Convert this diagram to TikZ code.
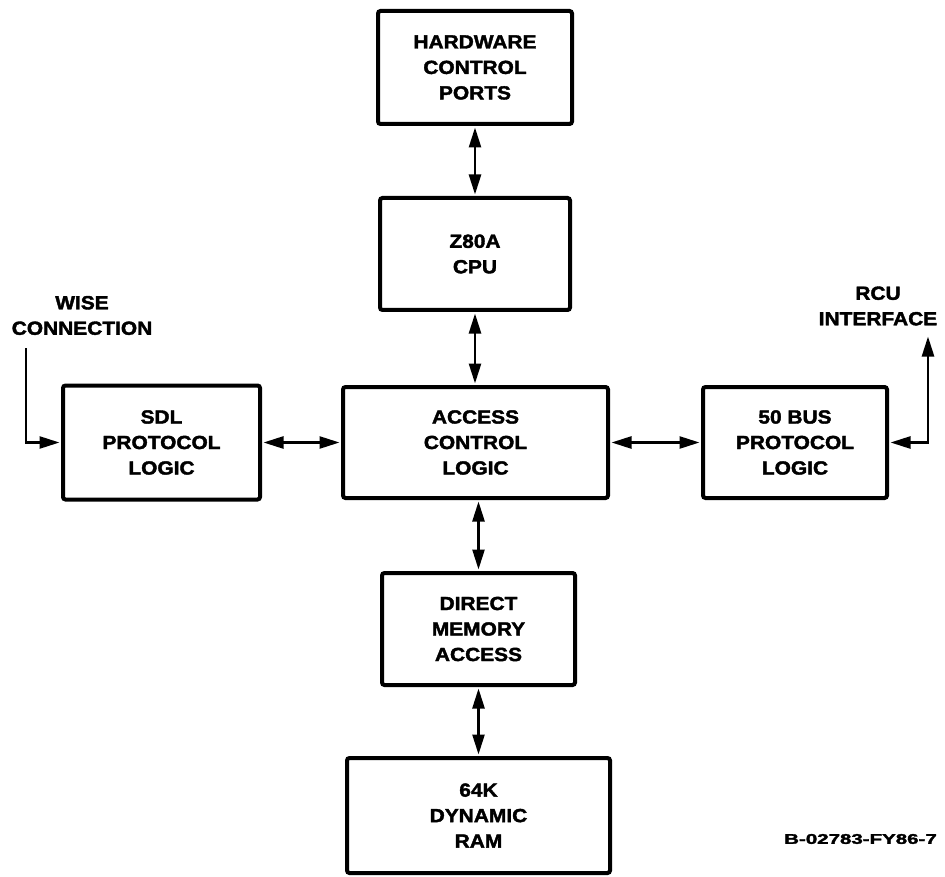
\documentclass[tikz,border=0pt]{standalone}
\usepackage{fontspec}
\newfontfamily\dfam{Liberation Sans}[FakeStretch=1.1,FakeBold=2]
\usetikzlibrary{arrows.meta}
\newcommand\dfont{\dfam\bfseries\fontsize{19}{25.5}\selectfont}
\newcommand\lfont{\dfam\bfseries\fontsize{14}{16}\selectfont}
\begin{document}
\begin{tikzpicture}[x=1pt,y=-1pt,
  box/.style={draw, line width=4pt, rounded corners=2.5pt, align=center, font=\dfont, inner sep=0pt},
  lbl/.style={align=center, font=\dfont, inner sep=0pt},
  tip/.tip={Triangle[length=20pt,width=12pt]},
  link/.style={line width=2.5pt, tip-tip, shorten >=1.5pt, shorten <=1.5pt},
  inlink/.style={line width=2.5pt, -tip, shorten >=1.5pt}]
\fill[white] (0,0) rectangle (945,877);
\useasboundingbox (0,0) rectangle (945,877);
\node[box, minimum width=194pt, minimum height=113pt] (hw)  at (475,67.5)   {HARDWARE\\CONTROL\\PORTS};
\node[box, minimum width=190pt, minimum height=112pt] (z80) at (475,254)    {Z80A\\CPU};
\node[box, minimum width=265pt, minimum height=111pt] (acl) at (475.5,442.5) {ACCESS\\CONTROL\\LOGIC};
\node[box, minimum width=197pt, minimum height=114pt] (sdl) at (161.5,442.5) {SDL\\PROTOCOL\\LOGIC};
\node[box, minimum width=184pt, minimum height=111pt] (bus) at (795,442.5)  {50 BUS\\PROTOCOL\\LOGIC};
\node[box, minimum width=193pt, minimum height=112pt] (dma) at (478.5,629)  {DIRECT\\MEMORY\\ACCESS};
\node[box, minimum width=263pt, minimum height=115pt] (ram) at (478.5,815.5) {64K\\DYNAMIC\\RAM};
\node[lbl] (wisel) at (82,315.5) {WISE\\CONNECTION};
\node[lbl] (rcul) at (878,306) {RCU\\INTERFACE};
\node[font=\lfont, inner sep=0pt] (fig) at (860.5,839) {\scalebox{1.33}[1]{B-02783-FY86-7}};
\coordinate (wise) at (26,348);
\coordinate (rcu) at (928,335);
\draw[link] (hw.south) -- (z80.north);
\draw[link] (z80.south) -- (z80.south |- acl.north);
\draw[link] (dma.north |- acl.south) -- (dma.north);
\draw[link] (dma.south) -- (ram.north);
\draw[link] (sdl.east) -- (acl.west);
\draw[link] (acl.east) -- (bus.west);
\draw[inlink] (wise) |- (sdl.west);
\draw[link] (bus.east) -| (rcu);
\end{tikzpicture}
\end{document}
